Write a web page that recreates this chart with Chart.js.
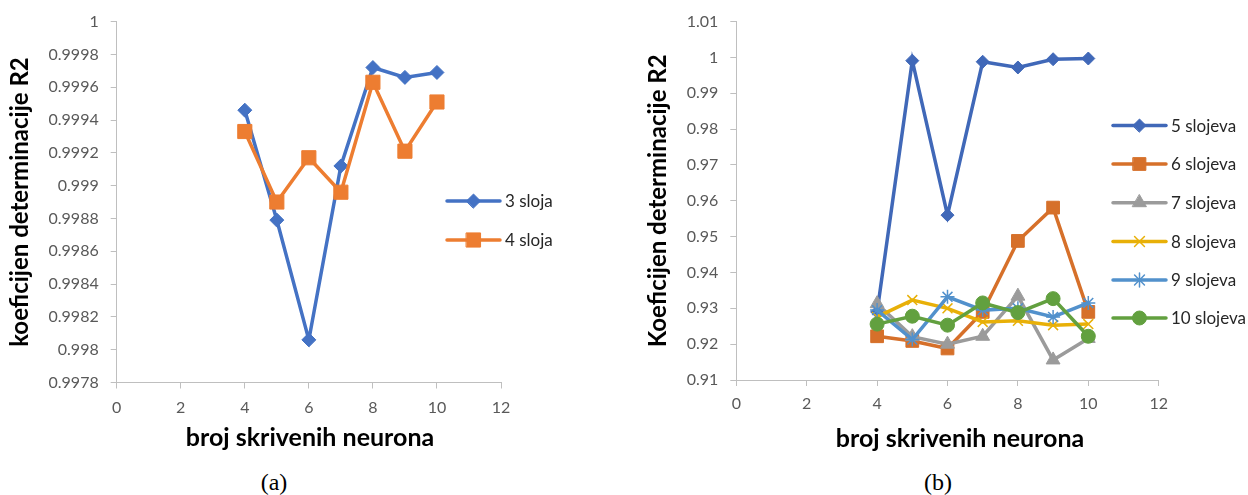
<!DOCTYPE html>
<html>
<head>
<meta charset="utf-8">
<script src="https://cdn.jsdelivr.net/npm/chart.js@4/dist/chart.umd.min.js"></script>
<style>
  body { margin: 0; width: 1248px; height: 495px; background: #fff; position: relative; overflow: hidden; }
  canvas { position: absolute; top: 0; }
  #chartA { left: 0; }
  #chartB { left: 620px; }
  .cap { position: absolute; top: 469px; font: 24px "Liberation Serif", serif; color: #000; transform: translateX(-50%); }
</style>
</head>
<body>
<canvas id="chartA" width="620" height="460"></canvas>
<canvas id="chartB" width="628" height="460"></canvas>
<div class="cap" style="left:274px">(a)</div>
<div class="cap" style="left:938px">(b)</div>
<script>
// broj skrivenih neurona
const neurons = [4, 5, 6, 7, 8, 9, 10]

// chart (a)
const labelsA = ['3 sloja', '4 sloja']
const sloja3 = [0.99946, 0.99879, 0.99806, 0.99912, 0.99972, 0.99966, 0.99969]
const sloja4 = [0.99933, 0.99890, 0.99917, 0.99896, 0.99963, 0.99921, 0.99951]

// chart (b)
const labelsB = ['5 slojeva', '6 slojeva', '7 slojeva', '8 slojeva', '9 slojeva', '10 slojeva']
const slojeva5 = [0.9290, 0.9991, 0.9560, 0.9988, 0.9972, 0.9995, 0.9997]
const slojeva6 = [0.9222, 0.9209, 0.9188, 0.9290, 0.9488, 0.9581, 0.9290]
const slojeva7 = [0.9313, 0.9221, 0.9200, 0.9222, 0.9334, 0.9156, 0.9216]
const slojeva8 = [0.9276, 0.9323, 0.9300, 0.9262, 0.9265, 0.9253, 0.9256]
const slojeva9 = [0.9295, 0.9213, 0.9332, 0.9295, 0.9300, 0.9276, 0.9315]
const slojeva10 = [0.9256, 0.9278, 0.9253, 0.9315, 0.9288, 0.9327, 0.9222]

const xTicks = [0, 12, 2]
const yTicksA = [0.9978, 1, 0.0002]
const yTicksB = [0.91, 1.01, 0.01]

const FONT = 'Lato, "Open Sans", sans-serif'
const XTITLE_SIZE = 25
const YTITLE_SIZE = 24

const toPoints = values => values.map((v, i) => ({ x: neurons[i], y: v }))

const makeSet = (label, values, color, style, radius, idx) => ({
  label,
  data: toPoints(values),
  showLine: true,
  borderColor: color,
  backgroundColor: color,
  borderWidth: 3.5,
  pointStyle: style,
  pointRadius: radius,
  pointBorderWidth: (style === 'crossRot' || style === 'star') ? 1.5 : 1,
  pointBorderColor: color,
  pointBackgroundColor: color,
  order: -idx
})

// legend + x title drawn at Excel-like spots
const extras = {
  id: 'extras',
  afterDraw (chart, args, opts) {
    const ctx = chart.ctx
    ctx.save()
    chart.data.datasets.forEach((ds, i) => {
      const y = opts.legendY[i]
      ctx.strokeStyle = ds.borderColor
      ctx.lineWidth = 3.5
      ctx.lineCap = 'round'
      ctx.beginPath()
      ctx.moveTo(opts.legendX, y)
      ctx.lineTo(opts.legendX + 53, y)
      ctx.stroke()
      ctx.fillStyle = ds.pointBackgroundColor
      ctx.strokeStyle = ds.pointBorderColor
      ctx.lineWidth = ds.pointBorderWidth
      Chart.helpers.drawPoint(ctx, { pointStyle: ds.pointStyle, radius: ds.pointRadius, borderWidth: ds.pointBorderWidth, rotation: 0 }, opts.legendX + 26.5, y)
      ctx.fillStyle = '#262626'
      ctx.font = '17px ' + FONT
      ctx.textAlign = 'left'
      ctx.textBaseline = 'middle'
      ctx.fillText(ds.label, opts.legendX + 58, y + 1)
    })
    ctx.fillStyle = '#000'
    ctx.font = 'bold ' + XTITLE_SIZE + 'px ' + FONT
    ctx.textAlign = 'center'
    ctx.textBaseline = 'middle'
    ctx.fillText('broj skrivenih neurona', opts.titleX, opts.titleY)
    ctx.restore()
  }
}

const fmt = v => parseFloat(v.toFixed(4)).toString()

const makeOptions = (yt, area, ytitle, extraOpts) => ({
  responsive: false,
  animation: false,
  events: [],
  layout: { padding: { left: 0, top: area.top, right: area.right, bottom: 0 } },
  plugins: { legend: { display: false }, tooltip: { enabled: false }, extras: extraOpts },
  scales: {
    x: {
      type: 'linear',
      min: xTicks[0],
      max: xTicks[1],
      afterFit: s => { s.height = area.xh },
      ticks: { stepSize: xTicks[2], color: '#595959', font: { family: FONT, size: 16 }, padding: area.xpad },
      grid: { drawOnChartArea: false, tickLength: 6, color: '#BFBFBF' },
      border: { color: '#BFBFBF', width: 1 }
    },
    y: {
      min: yt[0],
      max: yt[1],
      afterFit: s => { s.width = area.left },
      ticks: { stepSize: yt[2], color: '#595959', font: { family: FONT, size: 16 }, padding: 12, callback: fmt },
      grid: { drawOnChartArea: false, tickLength: 6, color: '#BFBFBF' },
      border: { color: '#BFBFBF', width: 1 },
      title: { display: true, text: ytitle, color: '#000', font: { family: FONT, size: YTITLE_SIZE, weight: 'bold' }, padding: { top: area.ytpad } }
    }
  }
})

new Chart(document.querySelector('#chartA').getContext('2d'), {
  type: 'scatter',
  data: {
    datasets: [
      makeSet(labelsA[0], sloja3, '#4472C4', 'rectRot', 7, 0),
      makeSet(labelsA[1], sloja4, '#ED7D31', 'rect', 10, 1)
    ]
  },
  options: makeOptions(yTicksA, { top: 17, right: 119, left: 116.7, xh: 77.5, xpad: 10, ytpad: 5.6 },
    'koeficijen determinacije R2',
    { legendX: 447, legendY: [201, 240], titleX: 310, titleY: 438 }),
  plugins: [extras]
})

new Chart(document.querySelector('#chartB').getContext('2d'), {
  type: 'scatter',
  data: {
    datasets: [
      makeSet(labelsB[0], slojeva5, '#4068B8', 'rectRot', 6.5, 0),
      makeSet(labelsB[1], slojeva6, '#D6702A', 'rect', 9, 1),
      makeSet(labelsB[2], slojeva7, '#9B9B9B', 'triangle', 8, 2),
      makeSet(labelsB[3], slojeva8, '#E8B008', 'crossRot', 7, 3),
      makeSet(labelsB[4], slojeva9, '#5291CC', 'star', 7, 4),
      makeSet(labelsB[5], slojeva10, '#62A03F', 'circle', 7, 5)
    ]
  },
  options: makeOptions(yTicksB, { top: 20.7, right: 89.3, left: 116.3, xh: 80, xpad: 8.4, ytpad: 23.6 },
    'Koeficijen determinacije R2',
    { legendX: 493, legendY: [125.5, 164, 202.7, 241.5, 280, 318], titleX: 340, titleY: 439 }),
  plugins: [extras]
})
</script>
</body>
</html>
